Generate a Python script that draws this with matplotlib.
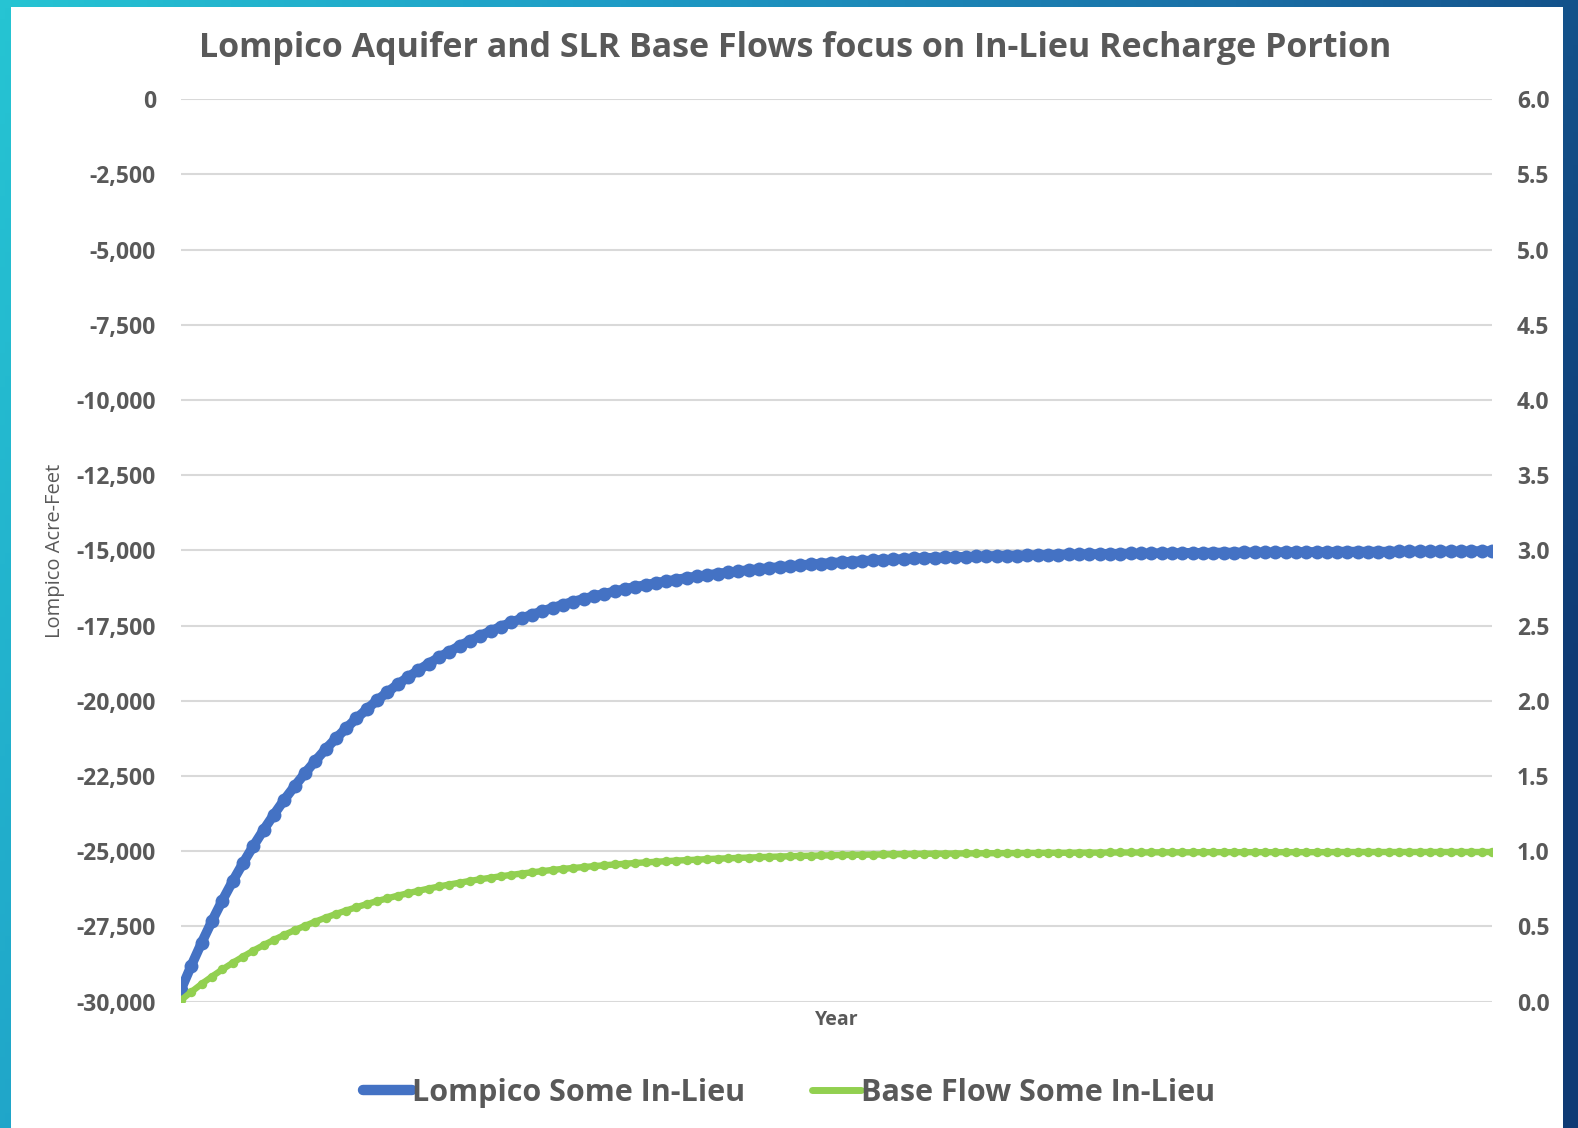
import numpy as np
import matplotlib
matplotlib.use("Agg")
import matplotlib.pyplot as plt
from matplotlib.colors import LinearSegmentedColormap
from matplotlib.lines import Line2D
from matplotlib.patches import Rectangle
from matplotlib.ticker import FuncFormatter

# Data (one value per year)
lompico = [
    -29600, -28800, -28040, -27320, -26640, -26000, -25400, -24830, -24290, -23780,
    -23290, -22840, -22410, -22000, -21610, -21250, -20910, -20580, -20280, -19980,
    -19710, -19450, -19210, -18980, -18760, -18550, -18360, -18170, -18000, -17830,
    -17680, -17530, -17390, -17260, -17130, -17020, -16910, -16800, -16700, -16610,
    -16520, -16440, -16360, -16280, -16210, -16150, -16080, -16020, -15970, -15910,
    -15860, -15820, -15770, -15730, -15690, -15650, -15620, -15580, -15550, -15520,
    -15490, -15460, -15440, -15410, -15390, -15370, -15350, -15330, -15310, -15300,
    -15280, -15260, -15250, -15240, -15230, -15220, -15210, -15200, -15190, -15180,
    -15170, -15170, -15160, -15150, -15150, -15140, -15130, -15130, -15120, -15120,
    -15110, -15110, -15100, -15100, -15090, -15090, -15090, -15080, -15080, -15080,
    -15070, -15070, -15070, -15060, -15060, -15060, -15060, -15050, -15050, -15050,
    -15050, -15050, -15040, -15040, -15040, -15040, -15040, -15040, -15030, -15030,
    -15030, -15030, -15030, -15030, -15030, -15020, -15020, -15020,
]
base_flow = [
    0.010, 0.065, 0.118, 0.167, 0.214, 0.258, 0.299, 0.339, 0.376, 0.411,
    0.444, 0.475, 0.504, 0.532, 0.558, 0.583, 0.606, 0.628, 0.649, 0.669,
    0.687, 0.705, 0.721, 0.737, 0.752, 0.766, 0.779, 0.791, 0.803, 0.814,
    0.824, 0.834, 0.843, 0.852, 0.860, 0.868, 0.876, 0.883, 0.889, 0.895,
    0.901, 0.907, 0.912, 0.917, 0.922, 0.926, 0.930, 0.934, 0.938, 0.941,
    0.944, 0.948, 0.951, 0.953, 0.956, 0.958, 0.961, 0.963, 0.965, 0.967,
    0.969, 0.970, 0.972, 0.973, 0.975, 0.976, 0.977, 0.978, 0.979, 0.980,
    0.981, 0.982, 0.983, 0.984, 0.984, 0.985, 0.986, 0.986, 0.987, 0.987,
    0.988, 0.988, 0.989, 0.989, 0.990, 0.990, 0.990, 0.991, 0.991, 0.991,
    0.992, 0.992, 0.992, 0.992, 0.993, 0.993, 0.993, 0.993, 0.993, 0.994,
    0.994, 0.994, 0.994, 0.994, 0.994, 0.994, 0.994, 0.994, 0.994, 0.994,
    0.994, 0.994, 0.995, 0.995, 0.995, 0.995, 0.995, 0.995, 0.995, 0.995,
    0.995, 0.995, 0.995, 0.995, 0.995, 0.995, 0.995, 0.995,
]
left_ticks = [0, -2500, -5000, -7500, -10000, -12500, -15000, -17500,
              -20000, -22500, -25000, -27500, -30000]
right_ticks = [0.0, 0.5, 1.0, 1.5, 2.0, 2.5, 3.0, 3.5, 4.0, 4.5, 5.0, 5.5, 6.0]

TITLE = "Lompico Aquifer and SLR Base Flows focus on In-Lieu Recharge Portion"
TEXT_COLOR = "#595959"
BLUE = "#4472C4"
GREEN = "#92D050"
FONT = ["Open Sans", "DejaVu Sans"]

years = np.arange(len(lompico))

fig = plt.figure(figsize=(15.78, 11.28), dpi=100)

# --- gradient frame behind the white panel ---
bg = fig.add_axes([0, 0, 1, 1], zorder=-10)
gx, gy = np.meshgrid(np.linspace(0, 1, 300), np.linspace(0, 1, 300))
grad = np.clip(0.85 * gx + 0.25 * gy, 0, 1)
cmap = LinearSegmentedColormap.from_list("frame", ["#26C4D3", "#1E9CC6", "#1A6FA6", "#0E3A74"])
bg.imshow(grad, cmap=cmap, aspect="auto", extent=[0, 1, 0, 1], origin="upper")
bg.add_patch(Rectangle((11 / 1578, 0), (1563 - 11) / 1578, 1 - 7 / 1128,
                       transform=bg.transAxes, facecolor="white", edgecolor="none"))
bg.set_axis_off()

# --- main chart ---
ax = fig.add_axes([0.1147, 0.1120, 0.9455 - 0.1147, 0.9120 - 0.1120])
ax2 = ax.twinx()
ax.set_facecolor("none")

ax.plot(years, lompico, color=BLUE, lw=7, marker="o", ms=10, mew=0,
        solid_capstyle="round", zorder=3)
ax2.plot(years, base_flow, color=GREEN, lw=4.6, marker="o", ms=6.8, mew=0,
         solid_capstyle="round", zorder=3)

ax.set_xlim(0, len(lompico) - 1)
ax.set_ylim(-30000, 0)
ax2.set_ylim(0, 6)
ax.set_yticks(left_ticks)
ax2.set_yticks(right_ticks)
ax.yaxis.set_major_formatter(FuncFormatter(lambda v, p: f"{v:,.0f}"))
ax2.yaxis.set_major_formatter(FuncFormatter(lambda v, p: f"{v:.1f}"))
ax.set_xticks([])
ax.grid(axis="y", color="#D9D9D9", lw=1.5)
ax.set_axisbelow(True)

for a in (ax, ax2):
    for s in a.spines.values():
        s.set_visible(False)
    a.tick_params(axis="y", length=0, labelsize=16.5, labelcolor=TEXT_COLOR)
    for lab in a.get_yticklabels():
        lab.set_fontweight("bold")
        lab.set_family(FONT)
ax.tick_params(axis="y", pad=18)
ax2.tick_params(axis="y", pad=18)

ax.set_ylabel("Lompico Acre-Feet", fontsize=14.5, color=TEXT_COLOR, family=FONT, labelpad=8)
ax.set_xlabel("Year", fontsize=14, color=TEXT_COLOR, fontweight="bold", family=FONT, labelpad=6)

fig.text(795 / 1578, 1 - 48 / 1128, TITLE, ha="center", va="center", fontsize=24.5,
         fontweight="bold", color=TEXT_COLOR, family=FONT)

handles = [Line2D([0], [0], color=BLUE, lw=7.5, solid_capstyle="round"),
           Line2D([0], [0], color=GREEN, lw=5, solid_capstyle="round")]
fig.legend(handles, ["Lompico Some In-Lieu", "Base Flow Some In-Lieu"],
           loc="center", bbox_to_anchor=(789 / 1578, 1 - 1093 / 1128), ncol=2,
           frameon=False, handlelength=1.6, handletextpad=0.0, columnspacing=2.2,
           prop={"family": FONT, "weight": "bold", "size": 22},
           labelcolor=TEXT_COLOR)

fig.savefig("out.png", dpi=100)
